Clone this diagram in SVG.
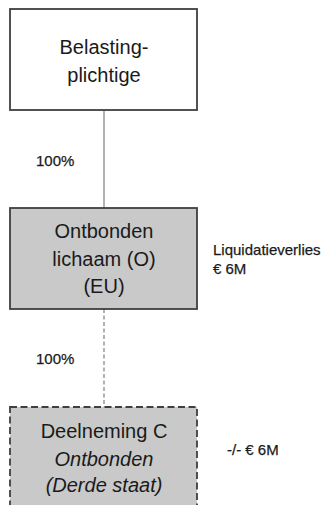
<svg xmlns="http://www.w3.org/2000/svg" width="329" height="505" viewBox="0 0 329 505">
<style>
.box{stroke:#3f3f3f;stroke-width:1.8}
.t{font-family:"Liberation Sans",Arial,sans-serif;font-size:20px;fill:#1a1a1a;text-anchor:middle}
.s{font-family:"Liberation Sans",Arial,sans-serif;font-size:15px;fill:#1a1a1a;stroke:#1a1a1a;stroke-width:0.25}
.c{stroke:#7f7f7f;stroke-width:1.2;fill:none}
</style>
<rect width="329" height="505" fill="#ffffff"/>
<g id="connectors">
<line class="c" x1="104" y1="110" x2="104" y2="208"/>
<line class="c" x1="104" y1="309" x2="104" y2="407" stroke-dasharray="4,2.5"/>
</g>
<g id="belastingplichtige">
<rect class="box" x="10" y="9" width="187" height="101" fill="#ffffff"/>
<text class="t" x="104" y="54">Belasting-</text>
<text class="t" x="104" y="82">plichtige</text>
</g>
<g id="ontbonden-lichaam">
<rect class="box" x="10" y="208" width="187" height="101" fill="#c9c9c9"/>
<text class="t" x="104" y="238">Ontbonden</text>
<text class="t" x="104" y="266">lichaam (O)</text>
<text class="t" x="104" y="293">(EU)</text>
</g>
<g id="deelneming-c">
<rect class="box" x="10" y="407" width="187" height="110" fill="#c9c9c9" stroke-dasharray="7,3.5"/>
<text class="t" x="104" y="438">Deelneming C</text>
<text class="t" x="104" y="466" font-style="italic">Ontbonden</text>
<text class="t" x="104" y="492" font-style="italic">(Derde staat)</text>
</g>
<g id="labels">
<text class="s" x="36" y="166">100%</text>
<text class="s" x="36" y="364">100%</text>
<text class="s" x="213" y="255">Liquidatieverlies</text>
<text class="s" x="213" y="274">€ 6M</text>
<text class="s" x="227" y="455">-/- € 6M</text>
</g>
</svg>
